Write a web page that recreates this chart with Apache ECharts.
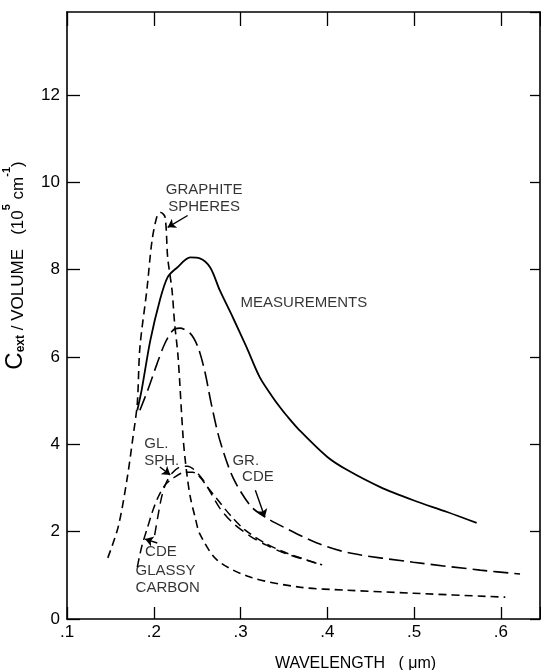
<!DOCTYPE html>
<html>
<head>
<meta charset="utf-8">
<script src="https://cdn.jsdelivr.net/npm/echarts@6/dist/echarts.min.js"></script>
<style>html,body{margin:0;padding:0;background:#fff;}#c{width:541px;height:670px;}</style>
</head>
<body>
<div id="c"></div>
<script>
// ---- data (wavelength in µm, Cext/Volume in 1e5 cm^-1) ----
const measX = [0.181,0.186,0.196,0.207,0.216,0.227,0.242,0.253,0.265,0.276,0.291,0.307,0.322,0.337,0.345,0.353,0.368,0.400,0.423,0.461,0.499,0.538,0.572];
const measY = [4.78,5.24,6.38,7.30,7.83,8.05,8.28,8.26,8.05,7.53,6.91,6.22,5.54,5.08,4.86,4.66,4.32,3.71,3.41,3.02,2.72,2.45,2.20];

const graphSphX = [0.147,0.159,0.169,0.176,0.181,0.184,0.192,0.198,0.204,0.208,0.213,0.216,0.221,0.224,0.228,0.234,0.238,0.242,0.248,0.253,0.273,0.311,0.368,0.423,0.499,0.605];
const graphSphY = [1.40,2.11,3.18,4.16,4.94,6.22,7.53,8.67,9.24,9.31,9.20,8.28,7.53,6.77,6.00,4.10,3.34,2.80,2.30,1.95,1.35,0.96,0.73,0.66,0.59,0.50];

const grCdeX = [0.184,0.193,0.204,0.213,0.222,0.230,0.242,0.251,0.259,0.266,0.276,0.291,0.311,0.326,0.349,0.388,0.426,0.499,0.576,0.622];
const grCdeY = [4.78,5.24,5.86,6.32,6.61,6.66,6.54,6.22,5.65,4.95,4.10,3.25,2.60,2.36,2.11,1.74,1.51,1.30,1.12,1.03];

const glSphX = [0.201,0.205,0.209,0.214,0.221,0.230,0.239,0.247,0.257,0.265,0.276,0.291,0.311,0.330,0.353,0.394];
const glSphY = [1.92,2.38,2.79,3.11,3.34,3.48,3.50,3.41,3.18,2.91,2.54,2.20,1.90,1.69,1.49,1.24];

const glCdeX = [0.181,0.186,0.193,0.199,0.205,0.213,0.224,0.236,0.245,0.253,0.262,0.274,0.288,0.305,0.328,0.353,0.394];
const glCdeY = [1.19,1.65,2.11,2.49,2.79,3.07,3.25,3.36,3.36,3.25,3.02,2.72,2.38,2.04,1.74,1.51,1.24];

const xTicks = [0.1,0.2,0.3,0.4,0.5,0.6];
const yTicks = [0,2,4,6,8,10,12];

// annotation texts anchored in data coordinates
const noteTexts = ['GRAPHITE\nSPHERES','MEASUREMENTS','GL.\nSPH.','GR.','CDE','CDE','GLASSY\nCARBON'];
const noteX =     [0.258, 0.373, 0.189, 0.306, 0.320, 0.190, 0.179];
const noteY =     [9.63, 7.25, 3.82, 3.62, 3.25, 1.53, 0.90];
const noteAlign = ['center','center','left','center','center','left','left'];

const arrowFromX = [0.239,0.207,0.317,0.204];
const arrowFromY = [9.24,3.48,2.95,1.74];
const arrowToX   = [0.216,0.219,0.328,0.190];
const arrowToY   = [8.97,3.30,2.33,1.83];

const zip = (a,b) => a.map((v,i)=>[v,b[i]]);
const FONT = 'Liberation Sans';
const INK = '#000';

const chart = echarts.init(document.getElementById('c'), null, {renderer:'canvas'});

function lineSeries(name, xs, ys, type, width) {
  return {
    name, type:'line', data: zip(xs,ys), showSymbol:false, symbol:'none',
    smooth:0.3, xAxisIndex:0, yAxisIndex:0,
    lineStyle:{color:INK, width:width, type:type, cap:'butt'},
    z:3, silent:true
  };
}

const fmtX = v => { const r = Math.round(v*10); return Math.abs(v*10-r)<1e-6 ? ('.'+r) : ''; };
const fmtY = v => (Math.abs(v%2)<1e-6 ? String(v) : '');

const option = {
  backgroundColor:'#fff',
  animation:false,
  grid:{left:67, right:1, top:12, bottom:51, containLabel:false, outerBoundsMode:'none'},
  xAxis:[
    {type:'value', position:'bottom', min:0.1, max:0.645, interval:0.1,
     name:'WAVELENGTH   ( μm)', nameLocation:'middle', nameGap:37,
     nameTextStyle:{fontFamily:FONT, fontSize:16, color:INK, padding:[0,0,0,104]},
     axisLine:{show:true, onZero:false, lineStyle:{color:INK, width:1.6}},
     axisTick:{show:true, inside:true, length:12, lineStyle:{color:INK, width:1.3}},
     axisLabel:{formatter:fmtX, fontFamily:FONT, fontSize:17, color:INK, margin:5},
     splitLine:{show:false}},
    {type:'value', position:'top', min:0.1, max:0.645, interval:0.1,
     axisLine:{show:true, onZero:false, lineStyle:{color:INK, width:1.6}},
     axisTick:{show:true, inside:true, length:14, lineStyle:{color:INK, width:1.3}},
     axisLabel:{show:false}, splitLine:{show:false}}
  ],
  yAxis:[
    {type:'value', position:'left', min:0, max:13.9, interval:2,
     name:'{C|C}{sub|ext}{n| / VOLUME   (10}{sup|5}{n| cm}{sup|-1}{n|)}',
     nameLocation:'middle', nameGap:40, nameRotate:90,
     nameTextStyle:{fontFamily:FONT, color:INK, padding:[0,0,0,100],
       rich:{
         C:{fontFamily:FONT, fontSize:24, color:INK, lineHeight:26, verticalAlign:'bottom'},
         sub:{fontFamily:FONT, fontSize:12, fontWeight:'bold', color:INK, lineHeight:26, verticalAlign:'bottom'},
         n:{fontFamily:FONT, fontSize:17, color:INK, lineHeight:26, verticalAlign:'bottom'},
         sup:{fontFamily:FONT, fontSize:11, fontWeight:'bold', color:INK, lineHeight:26, verticalAlign:'top'}
       }},
     axisLine:{show:true, onZero:false, lineStyle:{color:INK, width:1.6}},
     axisTick:{show:true, inside:true, length:13, lineStyle:{color:INK, width:1.3}},
     axisLabel:{formatter:fmtY, fontFamily:FONT, fontSize:17, color:INK, margin:7, showMaxLabel:false},
     splitLine:{show:false}},
    {type:'value', position:'right', min:0, max:13.9, interval:2,
     axisLine:{show:true, onZero:false, lineStyle:{color:INK, width:1.6}},
     axisTick:{show:true, inside:true, length:10, lineStyle:{color:INK, width:1.3}},
     axisLabel:{show:false}, splitLine:{show:false}}
  ],
  series:[
    lineSeries('Measurements', measX, measY, 'solid', 1.8),
    lineSeries('Graphite spheres', graphSphX, graphSphY, [8,5], 1.6),
    lineSeries('Graphite CDE', grCdeX, grCdeY, [15,6], 1.6),
    lineSeries('Glassy carbon spheres', glSphX, glSphY, [10,6], 1.5),
    lineSeries('Glassy carbon CDE', glCdeX, glCdeY, [9,5], 1.5),
    {
      type:'scatter', xAxisIndex:0, yAxisIndex:0, symbolSize:0, silent:true, z:5,
      data: noteTexts.map((t,i)=>({value:[noteX[i],noteY[i]], name:t,
        label:{show:true, position:'inside', formatter:t, align:noteAlign[i], verticalAlign:'middle',
               fontFamily:FONT, fontSize:15, color:INK, lineHeight:17}}))
    },
    {
      type:'lines', coordinateSystem:'cartesian2d', xAxisIndex:0, yAxisIndex:0, silent:true, z:5,
      symbol:['none','arrow'], symbolSize:[0,8],
      lineStyle:{color:INK, width:1.4, curveness:0, opacity:1},
      data: arrowFromX.map((v,i)=>({coords:[[v,arrowFromY[i]],[arrowToX[i],arrowToY[i]]]}))
    }
  ]
};
chart.setOption(option);
</script>
</body>
</html>
